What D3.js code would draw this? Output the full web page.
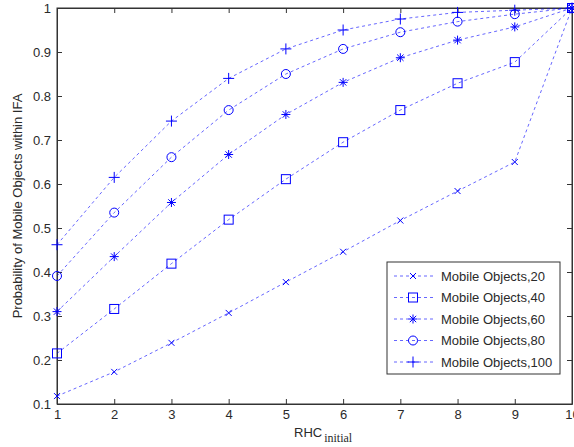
<!DOCTYPE html>
<html><head><meta charset="utf-8">
<script src="https://cdn.jsdelivr.net/npm/d3@7"></script>
<style>body{margin:0;background:#fff}svg{display:block}</style>
</head><body>
<script>
const xValues = [1,2,3,4,5,6,7,8,9,10];
const seriesNames = ["Mobile Objects,20","Mobile Objects,40","Mobile Objects,60","Mobile Objects,80","Mobile Objects,100"];
const mo20  = [0.118,0.173,0.239,0.307,0.377,0.446,0.517,0.584,0.650,1.0];
const mo40  = [0.215,0.316,0.419,0.519,0.611,0.695,0.768,0.829,0.877,1.0];
const mo60  = [0.310,0.435,0.558,0.667,0.758,0.831,0.887,0.927,0.957,1.0];
const mo80  = [0.391,0.535,0.661,0.768,0.850,0.907,0.945,0.969,0.986,1.0];
const mo100 = [0.462,0.615,0.743,0.840,0.907,0.950,0.975,0.990,0.995,1.0];
const markers = ["x","square","asterisk","circle","plus"];
const xTicks = [1,2,3,4,5,6,7,8,9,10];
const yTicks = [0.1,0.2,0.3,0.4,0.5,0.6,0.7,0.8,0.9,1];
const allSeries = [mo20,mo40,mo60,mo80,mo100];

const W=574,H=447;
const L=57,R=572,T=8,B=404;
const svg=d3.select("body").append("svg").attr("width",W).attr("height",H);
const x=d3.scaleLinear().domain([1,10]).range([L,R]);
const y=d3.scaleLinear().domain([0.1,1]).range([B,T]);
const font="Liberation Sans, Arial, Helvetica, sans-serif";
const axisCol="#333";
const blue="#0000ff";

function marker(g,type,cx,cy){
  const s=g.append("g").attr("transform",`translate(${cx},${cy})`)
    .attr("fill","none").attr("stroke",blue).attr("stroke-width",1);
  if(type==="x"){s.append("path").attr("d","M-3,-3L3,3M-3,3L3,-3");}
  else if(type==="square"){s.append("rect").attr("x",-4.5).attr("y",-4.5).attr("width",9).attr("height",9);}
  else if(type==="circle"){s.append("circle").attr("r",4.5);}
  else if(type==="plus"){s.append("path").attr("d","M-5.5,0L5.5,0M0,-5.5L0,5.5");}
  else if(type==="asterisk"){s.append("path").attr("d","M-4.5,0L4.5,0M0,-4.5L0,4.5M-3.2,-3.2L3.2,3.2M-3.2,3.2L3.2,-3.2");}
}

// axes box
const ax=svg.append("g");
ax.append("rect").attr("x",L).attr("y",T).attr("width",R-L).attr("height",B-T)
  .attr("fill","#fff").attr("stroke",axisCol).attr("stroke-width",1);

// axes with inward ticks
const xa=svg.append("g").attr("transform",`translate(0,${B})`)
  .call(d3.axisBottom(x).tickValues(xTicks).tickSizeInner(-5).tickSizeOuter(0).tickPadding(6).tickFormat(d3.format("d")));
const xt=svg.append("g").attr("transform",`translate(0,${T})`)
  .call(d3.axisTop(x).tickValues(xTicks).tickSizeInner(-5).tickSizeOuter(0).tickFormat(""));
const ya=svg.append("g").attr("transform",`translate(${L},0)`)
  .call(d3.axisLeft(y).tickValues(yTicks).tickSizeInner(-5).tickSizeOuter(0).tickPadding(6).tickFormat(d=>d3.format("")(Math.round(d*10)/10)));
const yr=svg.append("g").attr("transform",`translate(${R},0)`)
  .call(d3.axisRight(y).tickValues(yTicks).tickSizeInner(-5).tickSizeOuter(0).tickFormat(""));
[xa,xt,ya,yr].forEach(g=>{
  g.select(".domain").attr("stroke",axisCol);
  g.selectAll(".tick line").attr("stroke",axisCol);
  g.selectAll("text").attr("font-family",font).attr("font-size",13).attr("fill","#2a2a2a");
});

// series
const line=d3.line().x((d,i)=>x(xValues[i])).y(d=>y(d));
allSeries.forEach((vals,k)=>{
  svg.append("path").attr("d",line(vals)).attr("fill","none")
    .attr("stroke",blue).attr("stroke-opacity",0.6).attr("stroke-width",1).attr("stroke-dasharray","3,3");
  const g=svg.append("g");
  vals.forEach((v,i)=>marker(g,markers[k],x(xValues[i]),y(v)));
});

// axis labels
svg.append("text").attr("transform",`translate(22,${(T+B)/2}) rotate(-90)`)
  .attr("text-anchor","middle").attr("font-family",font).attr("font-size",13).attr("fill","#2a2a2a")
  .text("Probability of Mobile Objects within IFA");
const xl=svg.append("text").attr("x",294).attr("y",437).attr("font-family",font).attr("font-size",13).attr("fill","#2a2a2a");
xl.append("tspan").text("RHC");
xl.append("tspan").attr("dy",5).attr("dx",2).attr("font-family","Liberation Serif, Times New Roman, serif").attr("font-size",12).text("initial");

// legend
const lg=svg.append("g");
lg.append("rect").attr("x",387).attr("y",262).attr("width",173).attr("height",112)
  .attr("fill","#fff").attr("stroke",axisCol).attr("stroke-width",1);
seriesNames.forEach((n,k)=>{
  const yy=276+k*21.5;
  lg.append("line").attr("x1",394).attr("x2",433).attr("y1",yy).attr("y2",yy)
    .attr("stroke",blue).attr("stroke-opacity",0.6).attr("stroke-dasharray","3,3");
  marker(lg,markers[k],413,yy);
  lg.append("text").attr("x",441).attr("y",yy+4.5).attr("font-family",font).attr("font-size",13).attr("fill","#2a2a2a").text(n);
});
</script>
</body></html>
